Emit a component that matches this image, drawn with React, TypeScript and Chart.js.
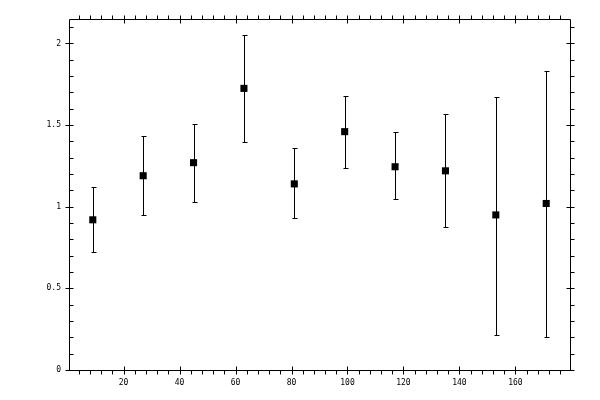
import { useEffect, useRef } from "react"
import { Chart, registerables } from "chart.js"

Chart.register(...registerables)

// bin centres and measured values
const binCenters = [9, 27, 45, 63, 81, 99, 117, 135, 153, 171]
const values = [0.92, 1.19, 1.27, 1.725, 1.14, 1.46, 1.245, 1.22, 0.95, 1.02]
const upper = [1.12, 1.435, 1.505, 2.05, 1.36, 1.68, 1.455, 1.57, 1.67, 1.83]
const lower = [0.72, 0.95, 1.03, 1.395, 0.93, 1.235, 1.045, 0.875, 0.215, 0.205]

const xTickValues = [20, 40, 60, 80, 100, 120, 140, 160]
const yTickValues = [0, 0.5, 1, 1.5, 2]

const X_MIN = 0.5
const X_MAX = 179.5
const Y_MIN = 0
const Y_MAX = 2.15
const X_MINOR_STEP = 4
const Y_MINOR_STEP = 0.1

const crisp = (v: number) => Math.round(v) + 0.5

// error bars under the markers
const errorBars = {
  id: "errorBars",
  beforeDatasetsDraw(chart: any) {
    const { ctx } = chart
    const xs = chart.scales.x
    const ys = chart.scales.y
    ctx.save()
    ctx.strokeStyle = "#000"
    ctx.lineWidth = 1
    binCenters.forEach((b, i) => {
      const px = crisp(xs.getPixelForValue(b))
      const top = crisp(ys.getPixelForValue(upper[i]))
      const bot = crisp(ys.getPixelForValue(lower[i]))
      ctx.beginPath()
      ctx.moveTo(px, top)
      ctx.lineTo(px, bot)
      ctx.moveTo(px - 2, top)
      ctx.lineTo(px + 3, top)
      ctx.moveTo(px - 2, bot)
      ctx.lineTo(px + 3, bot)
      ctx.stroke()
    })
    ctx.restore()
  },
}

// frame with tick marks on all four sides
const frameTicks = {
  id: "frameTicks",
  afterDraw(chart: any) {
    const { ctx, chartArea } = chart
    const xs = chart.scales.x
    const ys = chart.scales.y
    const L = crisp(chartArea.left)
    const R = crisp(chartArea.right)
    const T = crisp(chartArea.top)
    const B = crisp(chartArea.bottom)
    ctx.save()
    ctx.strokeStyle = "#000"
    ctx.lineWidth = 1
    ctx.beginPath()
    ctx.rect(L, T, R - L, B - T)

    for (let v = X_MINOR_STEP; v < X_MAX; v += X_MINOR_STEP) {
      if (v < X_MIN) continue
      const px = crisp(xs.getPixelForValue(v))
      const major = xTickValues.includes(v)
      if (major) {
        ctx.moveTo(px, B - 4); ctx.lineTo(px, B + 4)
        ctx.moveTo(px, T - 4); ctx.lineTo(px, T + 4)
      } else {
        ctx.moveTo(px, B); ctx.lineTo(px, B + 4)
        ctx.moveTo(px, T); ctx.lineTo(px, T - 4)
      }
    }
    for (let k = 0; k * Y_MINOR_STEP <= Y_MAX + 1e-9; k++) {
      const v = +(k * Y_MINOR_STEP).toFixed(2)
      const py = crisp(ys.getPixelForValue(v))
      const major = yTickValues.includes(v)
      if (major) {
        ctx.moveTo(L - 4, py); ctx.lineTo(L + 4, py)
        ctx.moveTo(R - 4, py); ctx.lineTo(R + 4, py)
      } else {
        ctx.moveTo(L, py); ctx.lineTo(L + 4, py)
        ctx.moveTo(R, py); ctx.lineTo(R + 4, py)
      }
    }
    ctx.stroke()
    ctx.restore()
  },
}

export default function App() {
  const canvasRef = useRef<HTMLCanvasElement>(null)
  const chartRef = useRef<Chart | null>(null)

  useEffect(() => {
    if (!canvasRef.current) return
    if (chartRef.current) chartRef.current.destroy()

    const tickFont = { family: "'DejaVu Sans Mono', monospace", size: 8 }

    chartRef.current = new Chart(canvasRef.current, {
      type: "scatter",
      data: {
        datasets: [
          {
            data: binCenters.map((x, i) => ({ x, y: values[i] })),
            pointStyle: "rect",
            pointRadius: 5,
            pointBorderWidth: 0,
            backgroundColor: "#000",
            borderColor: "#000",
          },
        ],
      },
      options: {
        responsive: true,
        maintainAspectRatio: false,
        animation: false,
        layout: { padding: { left: 8, top: 19, right: 30, bottom: 0 } },
        plugins: {
          legend: { display: false },
          tooltip: { enabled: false },
        },
        scales: {
          x: {
            type: "linear",
            min: X_MIN,
            max: X_MAX,
            grid: { display: false, drawTicks: false },
            border: { display: false },
            afterBuildTicks: (scale: any) => {
              scale.ticks = xTickValues.map((value) => ({ value }))
            },
            afterFit: (scale: any) => {
              scale.height = 30
            },
            ticks: {
              font: tickFont,
              color: "#000",
              padding: 8,
              maxRotation: 0,
              autoSkip: false,
              callback: (v: any) => String(v),
            },
          },
          y: {
            type: "linear",
            min: Y_MIN,
            max: Y_MAX,
            grid: { display: false, drawTicks: false },
            border: { display: false },
            afterBuildTicks: (scale: any) => {
              scale.ticks = yTickValues.map((value) => ({ value }))
            },
            afterFit: (scale: any) => {
              scale.width = 61
            },
            ticks: {
              font: tickFont,
              color: "#000",
              padding: 8,
              autoSkip: false,
              callback: (v: any) => String(v),
            },
          },
        },
      },
      plugins: [errorBars, frameTicks],
    })

    return () => {
      if (chartRef.current) {
        chartRef.current.destroy()
        chartRef.current = null
      }
    }
  }, [])

  return (
    <div style={{ position: "fixed", left: 0, top: 0, width: 600, height: 400, background: "#fff" }}>
      <canvas ref={canvasRef}></canvas>
    </div>
  )
}
